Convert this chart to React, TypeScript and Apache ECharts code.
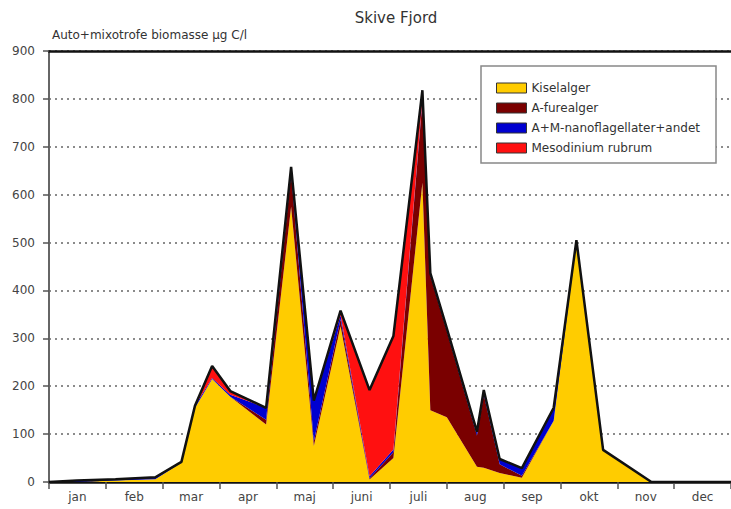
import React, { useEffect, useRef } from "react";
import * as echarts from "echarts";

const months = ["jan", "feb", "mar", "apr", "maj", "juni", "juli", "aug", "sep", "okt", "nov", "dec"];
const seriesNames = ["Kiselalger", "A-furealger", "A+M-nanoflagellater+andet", "Mesodinium rubrum"];
const seriesColors = ["#FFCC00", "#7A0000", "#0000D0", "#FF1010"];

// sampling position in months (0 = 1 jan, 12 = 31 dec)
const samplePos = [0, 0.49, 1.17, 1.87, 2.33, 2.57, 2.87, 3.19, 3.82, 4.26, 4.66, 5.13, 5.64, 6.06, 6.57, 6.71, 7.0, 7.53, 7.65, 7.93, 8.32, 8.88, 9.28, 9.75, 10.6, 12];
const kiselalger = [0, 0, 3, 6, 40, 155, 215, 178, 120, 575, 75, 325, 5, 50, 625, 150, 135, 32, 30, 19, 9, 128, 500, 65, 0, 0];
const afurealger = [0, 0, 0, 0, 0, 0, 0, 0, 10, 70, 10, 15, 3, 12, 170, 280, 180, 65, 152, 18, 4, 0, 0, 0, 0, 0];
const nanoflag = [0, 3, 3, 4, 2, 5, 2, 4, 25, 8, 85, 8, 4, 6, 5, 6, 6, 8, 10, 11, 16, 27, 5, 2, 0, 0];
const mesodinium = [0, 0, 0, 0, 0, 0, 25, 8, 0, 5, 0, 10, 180, 237, 18, 0, 0, 0, 0, 0, 0, 0, 0, 0, 0, 0];

const yTicks = [0, 100, 200, 300, 400, 500, 600, 700, 800, 900];

const FONT = "'DejaVu Sans', Verdana, sans-serif";

export default function App() {
  const ref = useRef<HTMLDivElement>(null);
  useEffect(() => {
    if (!ref.current) return;
    const chart = echarts.init(ref.current, null, { renderer: "svg" });
    const values = [kiselalger, afurealger, nanoflag, mesodinium];
    const series = values.map((arr, i) => ({
      name: seriesNames[i],
      type: "line",
      stack: "total",
      xAxisIndex: 0,
      // value first so that ECharts stacks the y dimension
      data: arr.map((v, j) => [v, samplePos[j]]),
      encode: { x: 1, y: 0 },
      showSymbol: false,
      symbol: "none",
      smooth: false,
      itemStyle: { color: seriesColors[i] },
      lineStyle: i === 3 ? { color: "#111", width: 2.5 } : { width: 0, color: seriesColors[i] },
      areaStyle: { color: seriesColors[i], opacity: 1 },
      z: 2 + i,
    }));
    chart.setOption({
      animation: false,
      backgroundColor: "#ffffff",
      textStyle: { fontFamily: FONT },
      grid: { left: 49, top: 51, bottom: 27, right: -4, containLabel: false },
      xAxis: [
        {
          type: "value",
          min: 0,
          max: 12,
          interval: 1,
          position: "bottom",
          axisLine: { show: true, lineStyle: { color: "#111", width: 2.5 } },
          axisTick: { show: true, inside: false, length: 7, lineStyle: { color: "#555", width: 1.5 } },
          axisLabel: { show: false },
          splitLine: { show: false },
        },
        {
          type: "category",
          data: months,
          boundaryGap: true,
          position: "bottom",
          axisLine: { show: false },
          axisTick: { show: false },
          axisLabel: { show: true, fontSize: 12, color: "#444", margin: 9, fontFamily: FONT },
          splitLine: { show: false },
        },
        {
          type: "value",
          min: 0,
          max: 12,
          position: "top",
          axisLine: { show: true, lineStyle: { color: "#111", width: 2.5 } },
          axisTick: { show: false },
          axisLabel: { show: false },
          splitLine: { show: false },
        },
      ],
      yAxis: {
        type: "value",
        min: 0,
        max: 900,
        interval: 100,
        axisLine: { show: true, lineStyle: { color: "#666", width: 2 } },
        axisTick: { show: true, inside: false, length: 6, lineStyle: { color: "#555", width: 1.5 } },
        axisLabel: {
          fontSize: 12,
          color: "#444",
          margin: 14,
          fontFamily: FONT,
          formatter: (v: number) => (yTicks.includes(v) ? String(v) : ""),
        },
        splitLine: { show: true, lineStyle: { color: "#666", type: [2, 4], width: 1.5 } },
      },
      legend: {
        orient: "vertical",
        left: 491,
        top: 77,
        itemWidth: 30,
        itemHeight: 10,
        itemGap: 8,
        icon: "rect",
        z: 10,
        textStyle: { fontSize: 12, color: "#333", fontFamily: FONT },
        data: seriesNames.map((n, i) => ({
          name: n,
          icon: "rect",
          itemStyle: { color: seriesColors[i], borderColor: "#333", borderWidth: 1 },
        })),
      },
      graphic: [
        {
          type: "rect",
          z: 9,
          shape: { x: 481, y: 66, width: 235, height: 97 },
          style: { fill: "#fff", stroke: "#888", lineWidth: 1.5 },
        },
        {
          type: "text",
          x: 396,
          y: 10,
          style: { text: "Skive Fjord", font: `15px ${FONT}`, fill: "#333", textAlign: "center" },
        },
        {
          type: "text",
          x: 52,
          y: 29,
          style: { text: "Auto+mixotrofe biomasse µg C/l", font: `12px ${FONT}`, fill: "#333" },
        },
      ],
      series,
    });
    return () => chart.dispose();
  }, []);
  return (
    <div
      ref={ref}
      style={{ position: "fixed", left: 0, top: 0, width: 731, height: 509, background: "#fff" }}
    />
  );
}
